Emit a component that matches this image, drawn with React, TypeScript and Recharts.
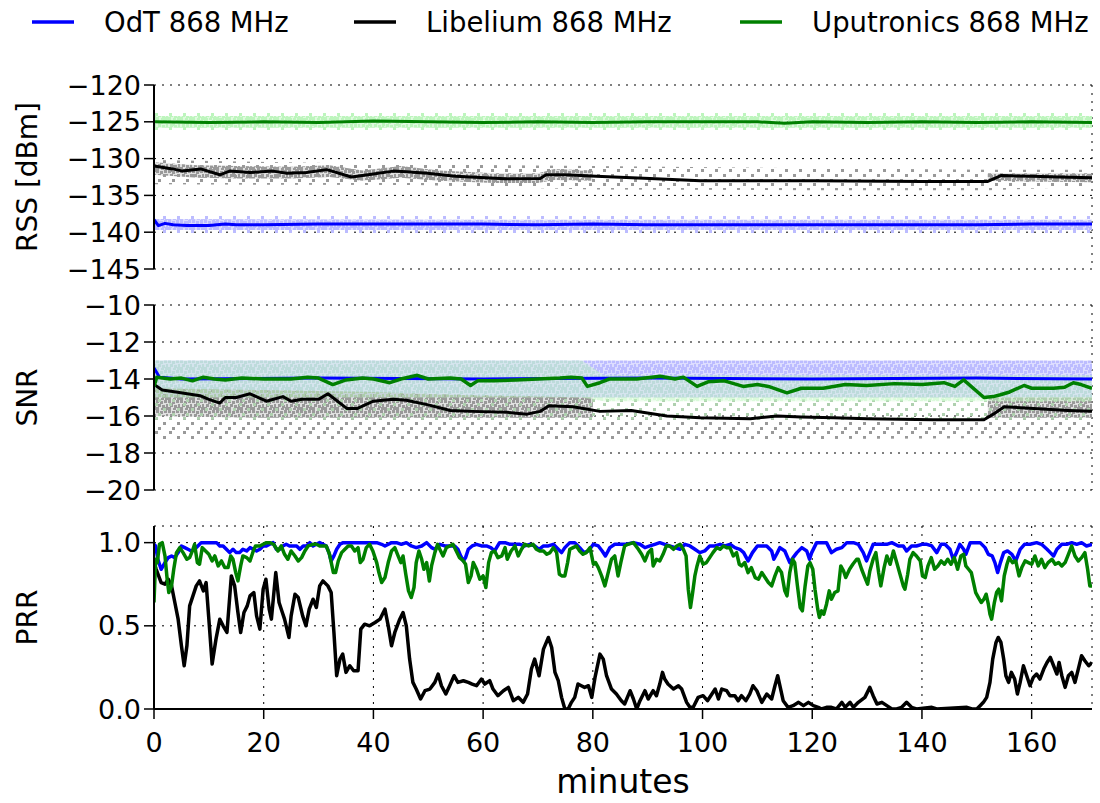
import React from 'react';
import { ComposedChart, Line, Area, XAxis, YAxis, CartesianGrid } from 'recharts';

// x axis (minutes) and y ticks of the three panels
const minuteTicks = [0, 20, 40, 60, 80, 100, 120, 140, 160];
const rssTicks = [-145, -140, -135, -130, -125, -120];
const snrTicks = [-20, -18, -16, -14, -12, -10];
const prrTicks = [0, 0.5, 1.0];

// ---- RSS [dBm] smoothed lines: [minute, value]
const rssOdt = [[0, -138.3], [0.8, -139.1], [2, -138.8], [3.5, -139.0], [6, -139.1], [10, -139.1], [13, -138.9], [15, -139.0], [20, -139.0], [30, -138.9], [40, -138.9], [50, -138.9], [60, -138.9], [70, -139.0], [80, -138.9], [90, -139.0], [100, -139.0], [110, -139.0], [120, -139.0], [130, -139.0], [140, -139.0], [150, -139.0], [160, -138.9], [171, -138.9]];
const rssLibelium = [[0, -131.0], [3.4, -131.4], [5.2, -131.7], [8.5, -131.4], [12, -132.2], [13.8, -131.7], [17.5, -131.9], [21.7, -131.7], [24.2, -132.0], [27.8, -131.9], [31.5, -131.5], [36, -132.5], [40, -132.1], [43.6, -131.7], [46, -131.8], [49.8, -132.0], [55, -132.4], [64, -132.75], [70.4, -132.7], [71.5, -132.2], [75, -132.2], [80.6, -132.4], [90.4, -132.7], [99.6, -133.0], [120, -133.0], [140, -133.1], [152, -133.1], [154.4, -132.3], [160, -132.4], [165, -132.5], [171, -132.6]];
const rssUputronics = [[0, -125.0], [10, -125.1], [20, -125.0], [30, -125.1], [40, -124.9], [50, -125.0], [60, -125.1], [70, -125.0], [80, -125.1], [90, -125.0], [100, -125.0], [110, -125.0], [115, -125.2], [120, -125.0], [130, -125.1], [140, -125.0], [150, -125.1], [160, -125.0], [171, -125.1]];

// ---- RSS scatter clouds: [minute, low, high]
const rssOdtCore = [[0, -139.7, -138.2], [60, -139.7, -138.3], [120, -139.7, -138.3], [171, -139.7, -138.3]];
const rssOdtSpread = [[0, -140.3, -137.7], [171, -140.3, -137.7]];
const rssLibCore = [[0, -132.2, -130.5], [8, -132.6, -130.9], [15, -132.7, -131.0], [25, -132.7, -131.1], [32, -132.5, -130.9], [38, -133.0, -131.6], [45, -132.6, -131.0], [52, -133.0, -131.6], [62, -133.3, -132.0], [70, -133.3, -132.0], [73, -132.9, -131.4], [80, -133.0, -131.6]];
const rssLibLate = [[152, -133.0, -132.0], [160, -133.1, -132.0], [171, -133.2, -132.0]];
const rssLibSpread = [[0, -133.5, -130.2], [48, -133.6, -130.8], [80, -134.2, -131.0], [120, -134.3, -131.3], [152, -134.3, -131.5], [171, -133.8, -131.5]];
const rssUpuCore = [[0, -125.8, -124.2], [171, -125.8, -124.2]];
const rssUpuSpread = [[0, -126.3, -123.7], [171, -126.3, -123.7]];

// ---- SNR lines
const snrOdt = [[0, -13.4], [1, -13.9], [5, -14.0], [30, -13.95], [60, -14.0], [90, -13.95], [120, -14.0], [150, -13.95], [171, -14.0]];
const snrLibelium = [[0, -14.3], [1.5, -14.6], [4, -14.7], [8.4, -14.9], [10, -15.1], [12, -15.3], [13, -15.0], [15, -15.0], [17.5, -14.8], [20.5, -15.2], [23.5, -14.95], [25, -15.2], [27, -15.1], [30, -15.1], [31.7, -14.8], [35.2, -15.6], [37, -15.6], [40, -15.2], [43.6, -15.1], [46, -15.15], [50, -15.4], [54, -15.7], [58, -15.75], [64.3, -15.8], [68, -15.9], [70.4, -15.75], [72, -15.45], [76.4, -15.5], [81.3, -15.75], [87, -15.7], [93.5, -16.0], [99.6, -16.1], [108.7, -16.15], [113.6, -16.0], [118, -16.05], [123.9, -16.1], [130, -16.15], [142, -16.2], [151.3, -16.2], [153, -15.9], [155, -15.5], [160.4, -15.6], [166.6, -15.7], [171, -15.75]];
const snrUputronics = [[0, -14.4], [0.5, -13.9], [3, -14.0], [5, -13.95], [7, -14.1], [9, -13.9], [11, -14.0], [13, -14.05], [16, -13.95], [20, -14.0], [25, -14.0], [28, -13.9], [30, -13.95], [32.6, -14.3], [35, -14.05], [38, -13.95], [40, -14.0], [43, -14.2], [45, -14.0], [48, -13.8], [50, -14.0], [54, -13.95], [56, -14.0], [57.7, -14.35], [59, -14.1], [62, -14.1], [66, -14.05], [70, -14.0], [74, -13.95], [76, -13.9], [78, -13.95], [79, -14.4], [81.3, -14.2], [83, -14.0], [88, -14.0], [92.3, -13.85], [95, -14.0], [96.5, -13.9], [99, -14.4], [101, -14.15], [104, -14.1], [107.4, -14.4], [110, -14.3], [112, -14.4], [115.4, -14.75], [118, -14.5], [122, -14.5], [126, -14.3], [130, -14.35], [135, -14.25], [140, -14.3], [144, -14.2], [146, -14.4], [147.6, -14.05], [151.3, -15.0], [153, -14.95], [154.3, -14.85], [156, -14.7], [158.6, -14.35], [160, -14.5], [164, -14.5], [166, -14.45], [167.6, -14.2], [169, -14.3], [171, -14.5]];

// ---- SNR scatter clouds
const snrOdtBand = [[0, -15.0, -13.0], [171, -15.0, -13.0]];
const snrLibCore = [[0, -16.0, -14.5], [20, -16.1, -14.6], [40, -16.1, -14.7], [60, -16.1, -14.9], [80, -16.1, -15.0]];
const snrLibLate = [[152, -16.1, -15.0], [171, -16.1, -15.0]];
const snrLibSpread = [[0, -17.3, -14.5], [80, -17.3, -15.0], [152, -17.2, -15.2], [171, -17.2, -15.0]];
const snrUpuCore = [[0, -15.0, -13.0], [78, -15.0, -13.0], [82, -15.2, -13.8], [150, -15.2, -13.8], [171, -15.2, -13.8]];
const snrUpuSpread = [[0, -16.2, -15.0], [171, -16.2, -15.0]];

// ---- PRR lines
const prrOdt = [[0, 0.99], [0.3, 0.98], [0.7, 0.90], [1.3, 0.84], [2, 0.88], [2.6, 0.91], [3.2, 0.92], [3.8, 0.91], [4.4, 0.94], [5, 0.98], [5.6, 0.97], [6.2, 0.96], [6.8, 0.95], [7.4, 0.96], [8, 0.98], [8.6, 1.0], [9.5, 1.0], [10.5, 1.0], [11.4, 1.0], [12, 0.98], [12.6, 0.98], [13.2, 0.96], [13.8, 0.94], [14.4, 0.96], [15, 0.94], [15.6, 0.94], [16.2, 0.96], [16.9, 0.95], [17.5, 0.97], [18.1, 0.96], [18.7, 0.95], [19.3, 0.96], [19.9, 0.98], [20.5, 0.98], [21.1, 0.99], [21.7, 1.0], [22.3, 0.96], [22.9, 0.96], [23.5, 0.98], [24.1, 0.99], [24.7, 0.98], [26, 0.98], [26.6, 0.96], [27.2, 0.98], [27.8, 0.98], [28.4, 1.0], [29, 0.98], [29.6, 0.99], [30.2, 1.0], [30.8, 0.99], [31.4, 0.98], [31.9, 0.94], [32.3, 0.89], [32.8, 0.92], [33.3, 0.96], [33.9, 0.99], [34.5, 1.0], [35.7, 1.0], [36.9, 1.0], [38.1, 1.0], [39.3, 1.0], [40.6, 1.0], [41.5, 0.99], [42.1, 0.98], [43.3, 1.0], [44.2, 1.0], [45.1, 0.99], [46, 1.0], [46.9, 0.98], [47.8, 0.97], [48.8, 0.98], [49.7, 1.0], [50.6, 0.97], [51.2, 0.96], [52.1, 0.99], [53, 0.98], [54.8, 0.98], [55.4, 0.96], [55.9, 0.92], [56.4, 0.89], [56.8, 0.91], [57.3, 0.96], [58, 0.98], [58.8, 0.99], [59.7, 0.98], [60.6, 0.98], [61.4, 0.97], [62.1, 0.95], [63, 1.0], [64, 1.0], [64.9, 0.99], [66.7, 0.99], [67.6, 0.98], [68.5, 0.99], [69.4, 0.98], [70.2, 0.96], [71, 0.98], [71.9, 0.98], [72.8, 0.99], [73.7, 0.96], [74.3, 0.94], [74.9, 0.97], [75.8, 1.0], [76.7, 1.0], [77.6, 0.97], [78.4, 0.94], [79.2, 0.95], [80.1, 0.99], [81, 0.98], [81.7, 0.95], [82.3, 0.92], [83.1, 0.97], [84, 0.99], [86.1, 0.99], [87.4, 1.0], [88.6, 0.99], [89.5, 0.97], [90.4, 0.98], [91.3, 0.99], [92.2, 1.0], [93.1, 0.99], [94, 0.98], [95, 0.97], [95.9, 0.96], [96.8, 0.99], [97.7, 0.98], [98.6, 0.96], [99.5, 0.94], [100.4, 0.95], [101.3, 0.98], [102.3, 0.98], [103.2, 0.99], [104.1, 0.98], [105, 0.99], [105.9, 0.97], [106.8, 0.96], [107.5, 0.94], [108.3, 0.89], [109.1, 0.94], [110, 0.98], [111.7, 0.98], [112.6, 0.95], [113, 0.90], [113.5, 0.93], [114.1, 0.97], [115, 0.95], [115.9, 0.88], [116.5, 0.91], [117.2, 0.94], [118.1, 0.97], [119, 0.95], [119.5, 0.90], [119.9, 0.94], [120.8, 1.0], [122.6, 1.0], [123.5, 0.94], [124.4, 0.96], [125.4, 0.97], [126.3, 1.0], [127.5, 1.0], [128.4, 0.99], [129.3, 0.94], [129.9, 0.89], [130.5, 0.94], [131.1, 0.99], [133.6, 0.99], [134.5, 1.0], [135.7, 0.98], [136.6, 0.98], [137.2, 0.95], [138.1, 0.98], [139, 0.98], [140, 0.99], [140.9, 0.99], [141.8, 0.98], [142.7, 0.94], [143.5, 0.99], [144.2, 0.99], [145.1, 0.96], [145.7, 0.90], [146.3, 0.94], [146.9, 0.99], [147.6, 0.96], [148, 0.93], [148.8, 1.0], [150.6, 1.0], [151.5, 0.97], [152.1, 0.93], [152.8, 0.92], [153.3, 0.88], [153.8, 0.82], [154.3, 0.88], [154.9, 0.94], [155.6, 0.95], [156.4, 0.93], [157.1, 0.89], [157.9, 0.96], [158.7, 0.99], [159.7, 0.99], [160.9, 1.0], [161.8, 0.99], [162.8, 0.96], [163.4, 0.94], [164, 0.92], [164.6, 0.96], [165.5, 0.99], [166.4, 0.99], [167.3, 1.0], [168.2, 0.99], [169.1, 1.0], [170, 0.98], [171, 0.99]];
const prrLibelium = [[0, 0.88], [0.4, 0.84], [1.3, 0.76], [2, 0.75], [2.6, 0.78], [3.2, 0.74], [3.8, 0.64], [4.4, 0.54], [5, 0.38], [5.5, 0.26], [6, 0.38], [6.5, 0.62], [7.1, 0.68], [7.7, 0.74], [8.3, 0.77], [9, 0.71], [9.5, 0.76], [10, 0.54], [10.6, 0.27], [11.3, 0.42], [12, 0.54], [12.6, 0.50], [13.3, 0.46], [14.1, 0.80], [14.7, 0.74], [15.3, 0.58], [15.8, 0.46], [16.4, 0.58], [17, 0.62], [17.5, 0.68], [18.2, 0.70], [18.7, 0.56], [19.3, 0.48], [19.9, 0.72], [20.4, 0.78], [21, 0.60], [21.4, 0.54], [22.2, 0.82], [22.8, 0.64], [23.4, 0.58], [23.8, 0.54], [24.6, 0.43], [25, 0.56], [25.7, 0.69], [26.3, 0.67], [27.1, 0.56], [27.7, 0.50], [28.3, 0.60], [29, 0.66], [29.6, 0.61], [30.2, 0.74], [30.8, 0.77], [31.7, 0.74], [32.3, 0.70], [32.8, 0.46], [33.3, 0.20], [33.9, 0.30], [34.4, 0.33], [35, 0.22], [35.7, 0.26], [36.4, 0.23], [37.2, 0.23], [37.7, 0.48], [38.4, 0.51], [39.3, 0.50], [40.3, 0.52], [41.2, 0.54], [41.8, 0.58], [42.1, 0.60], [42.7, 0.50], [43.3, 0.38], [43.9, 0.46], [44.8, 0.54], [45.4, 0.58], [46, 0.50], [46.6, 0.30], [47.2, 0.16], [47.8, 0.12], [48.6, 0.06], [49.4, 0.11], [50.3, 0.12], [51.2, 0.16], [51.8, 0.21], [52.4, 0.14], [53.2, 0.09], [53.9, 0.14], [54.7, 0.20], [55.4, 0.16], [56.4, 0.17], [57.3, 0.16], [58, 0.15], [58.8, 0.14], [59.7, 0.18], [60.3, 0.15], [61.2, 0.17], [61.8, 0.12], [62.7, 0.08], [63.7, 0.11], [64.6, 0.13], [65.5, 0.05], [66.4, 0.07], [67.3, 0.04], [68.1, 0.09], [68.8, 0.24], [69.4, 0.30], [70.2, 0.20], [71, 0.36], [71.9, 0.43], [72.5, 0.37], [73.1, 0.22], [73.7, 0.17], [74.3, 0.07], [74.9, 0.0], [75.5, 0.0], [76.1, 0.04], [76.7, 0.07], [77.3, 0.15], [77.9, 0.14], [78.5, 0.13], [79.2, 0.14], [79.8, 0.07], [80.4, 0.19], [81.3, 0.33], [81.9, 0.30], [82.5, 0.20], [83.4, 0.12], [84.3, 0.09], [85.2, 0.05], [85.8, 0.03], [86.8, 0.11], [87.4, 0.06], [88, 0.0], [88.6, 0.05], [89.5, 0.11], [90.1, 0.06], [91, 0.11], [91.6, 0.08], [92.2, 0.15], [92.7, 0.22], [93.1, 0.18], [93.7, 0.15], [94.7, 0.12], [95.6, 0.14], [96.2, 0.12], [97.1, 0.04], [97.7, 0.01], [98.3, 0.01], [99.2, 0.07], [100.1, 0.08], [100.9, 0.05], [101.5, 0.08], [102.3, 0.12], [102.9, 0.06], [103.5, 0.12], [104.4, 0.11], [105, 0.08], [105.9, 0.08], [106.5, 0.05], [107.1, 0.08], [107.9, 0.05], [108.6, 0.09], [109.2, 0.14], [109.9, 0.11], [110.8, 0.04], [111.7, 0.09], [112.6, 0.06], [113.2, 0.14], [113.7, 0.20], [114.1, 0.14], [114.7, 0.05], [115.6, 0.01], [116.5, 0.02], [117.5, 0.04], [118.4, 0.02], [119.3, 0.04], [120.2, 0.02], [121.1, 0.01], [121.7, 0.0], [122.6, 0.01], [123.5, 0.01], [124.4, 0.0], [125.4, 0.04], [126, 0.01], [126.9, 0.04], [127.5, 0.01], [128.4, 0.04], [129.6, 0.07], [130.5, 0.13], [131.1, 0.08], [131.8, 0.03], [132.7, 0.04], [133.6, 0.02], [134.5, 0.0], [135.4, 0.0], [136.3, 0.01], [137.2, 0.04], [138.1, 0.01], [139, 0.0], [141.8, 0.01], [142.7, 0.0], [148.2, 0.01], [149.1, 0.0], [150, 0.0], [150.6, 0.02], [151.2, 0.04], [151.8, 0.07], [152.4, 0.16], [152.9, 0.30], [153.5, 0.40], [153.9, 0.43], [154.4, 0.40], [154.9, 0.30], [155.3, 0.20], [155.8, 0.16], [156.3, 0.22], [156.9, 0.18], [157.4, 0.09], [157.9, 0.16], [158.5, 0.26], [159.1, 0.20], [159.7, 0.14], [160.3, 0.19], [160.9, 0.21], [161.5, 0.18], [162.2, 0.24], [162.8, 0.28], [163.4, 0.31], [164, 0.26], [164.6, 0.21], [165, 0.28], [165.5, 0.20], [166.1, 0.13], [166.7, 0.20], [167.3, 0.22], [167.9, 0.16], [168.5, 0.24], [169.1, 0.32], [169.7, 0.29], [170.4, 0.26], [171, 0.28]];
const prrUputronics = [[0, 0.64], [0.3, 0.90], [0.6, 0.88], [1, 0.99], [1.5, 1.0], [2, 0.92], [2.4, 0.78], [2.7, 0.70], [3.2, 0.74], [3.6, 0.84], [4.1, 0.94], [4.7, 0.97], [5.3, 0.94], [6, 0.90], [6.5, 0.91], [7, 0.95], [7.4, 0.99], [7.9, 0.88], [8.3, 0.87], [8.8, 0.97], [9.4, 0.95], [10, 0.93], [10.6, 0.89], [11.1, 0.92], [11.7, 0.86], [12.3, 0.89], [12.9, 0.85], [13.5, 0.85], [14, 0.92], [14.4, 0.90], [14.9, 0.82], [15.3, 0.77], [15.8, 0.86], [16.2, 0.92], [16.9, 0.91], [17.5, 0.89], [18.1, 0.95], [18.5, 0.98], [19.3, 0.98], [19.9, 0.99], [20.5, 1.0], [21.1, 1.0], [21.8, 0.99], [22.6, 0.95], [23.2, 0.98], [23.8, 0.93], [24.4, 0.90], [25, 0.95], [25.7, 0.92], [26.3, 0.89], [26.9, 0.91], [27.5, 0.95], [28.1, 0.98], [29, 0.99], [29.6, 0.99], [30.2, 0.98], [31.4, 0.98], [32, 0.93], [32.7, 0.82], [33.1, 0.82], [33.6, 0.89], [34.2, 0.94], [34.8, 0.96], [35.4, 0.98], [36, 0.98], [36.6, 0.95], [37.2, 0.97], [37.6, 0.88], [38.1, 0.90], [38.7, 0.97], [39.3, 0.99], [39.9, 0.95], [40.6, 0.88], [41, 0.82], [41.5, 0.76], [42.1, 0.79], [42.7, 0.88], [43.3, 0.95], [43.9, 0.97], [44.5, 0.92], [45, 0.88], [45.4, 0.92], [45.9, 0.81], [46.4, 0.71], [46.9, 0.67], [47.4, 0.73], [47.8, 0.88], [48.3, 0.95], [48.8, 0.90], [49.2, 0.84], [49.7, 0.88], [50.2, 0.77], [50.6, 0.86], [51.2, 0.94], [51.7, 0.99], [52.1, 0.96], [52.7, 0.92], [53.3, 0.97], [53.9, 0.98], [54.5, 0.99], [55.1, 0.95], [55.7, 0.91], [56.4, 0.89], [56.8, 0.87], [57.3, 0.76], [57.8, 0.80], [58.2, 0.88], [58.8, 0.84], [59.4, 0.78], [60, 0.80], [60.5, 0.73], [61, 0.88], [61.5, 0.94], [62.1, 0.95], [62.7, 0.91], [63.4, 0.92], [64, 0.97], [64.4, 0.90], [65.1, 0.95], [65.8, 0.98], [66.4, 0.92], [67, 0.96], [67.6, 0.99], [68.3, 0.98], [69.1, 0.99], [69.7, 0.96], [70.3, 0.95], [71, 0.95], [71.6, 0.93], [72.2, 0.94], [72.8, 0.97], [73.4, 0.94], [73.9, 0.81], [74.4, 0.80], [74.9, 0.80], [75.4, 0.88], [75.8, 0.96], [76.4, 0.97], [77, 0.98], [77.6, 0.95], [78.2, 0.93], [78.8, 0.94], [79.5, 0.97], [80.1, 0.87], [80.5, 0.88], [81, 0.85], [81.6, 0.80], [82.2, 0.74], [82.8, 0.82], [83.4, 0.90], [84, 0.92], [84.6, 0.80], [85.1, 0.88], [85.8, 0.98], [86.4, 0.99], [87.4, 1.0], [88.3, 0.96], [88.9, 0.93], [89.5, 0.89], [90.1, 0.94], [90.7, 0.96], [91, 0.86], [91.6, 0.90], [92.2, 0.89], [92.8, 0.93], [93.4, 0.98], [94, 0.98], [94.7, 0.96], [95.3, 0.98], [95.9, 0.99], [96.5, 0.96], [97, 0.92], [97.4, 0.72], [97.8, 0.61], [98.2, 0.70], [98.6, 0.80], [99, 0.86], [99.5, 0.92], [100.1, 0.87], [100.7, 0.88], [101.3, 0.91], [101.9, 0.94], [102.6, 0.97], [103.2, 0.96], [103.8, 0.98], [104.4, 0.97], [105, 0.97], [105.6, 0.92], [106.2, 0.94], [106.7, 0.87], [107.1, 0.86], [107.7, 0.88], [108.3, 0.82], [108.9, 0.85], [109.6, 0.79], [110.2, 0.78], [110.8, 0.82], [111.4, 0.79], [112, 0.76], [112.6, 0.74], [113.2, 0.80], [113.8, 0.85], [114.4, 0.82], [115, 0.71], [115.4, 0.68], [115.9, 0.82], [116.4, 0.90], [116.8, 0.88], [117.3, 0.74], [117.8, 0.61], [118.2, 0.59], [118.7, 0.74], [119.2, 0.86], [119.6, 0.88], [120.1, 0.84], [120.5, 0.72], [121, 0.60], [121.3, 0.55], [121.7, 0.59], [122.1, 0.57], [122.6, 0.63], [123.1, 0.71], [123.5, 0.66], [124.1, 0.70], [124.7, 0.71], [125.2, 0.86], [125.7, 0.83], [126.1, 0.79], [126.8, 0.84], [127.4, 0.87], [128.1, 0.90], [128.4, 0.90], [129, 0.84], [129.6, 0.79], [130.1, 0.75], [130.5, 0.83], [131.1, 0.90], [131.6, 0.94], [132.1, 0.82], [132.5, 0.74], [133.1, 0.85], [133.6, 0.92], [134.2, 0.87], [134.8, 0.95], [135.4, 0.88], [136, 0.81], [136.6, 0.74], [136.9, 0.72], [137.4, 0.81], [137.8, 0.90], [138.4, 0.94], [139, 0.92], [139.7, 0.89], [140.1, 0.80], [140.6, 0.79], [141.1, 0.86], [141.7, 0.91], [142.3, 0.84], [142.9, 0.86], [143.5, 0.89], [144.1, 0.87], [144.7, 0.90], [145.3, 0.87], [145.9, 0.91], [146.5, 0.84], [147.1, 0.92], [147.6, 0.93], [148, 0.86], [148.5, 0.84], [149, 0.82], [149.4, 0.76], [149.8, 0.70], [150.3, 0.67], [150.8, 0.64], [151.3, 0.66], [151.7, 0.69], [152.1, 0.63], [152.4, 0.57], [152.7, 0.54], [153.2, 0.64], [153.6, 0.70], [154, 0.72], [154.5, 0.65], [155, 0.80], [155.5, 0.87], [155.9, 0.91], [156.5, 0.88], [157.1, 0.89], [157.7, 0.80], [158.2, 0.85], [158.8, 0.89], [159.4, 0.88], [160, 0.87], [160.6, 0.92], [161.2, 0.86], [161.8, 0.90], [162.4, 0.85], [163, 0.88], [163.7, 0.90], [164.3, 0.87], [164.9, 0.88], [165.5, 0.86], [166.1, 0.88], [166.7, 0.93], [167.3, 0.98], [167.9, 0.92], [168.5, 0.89], [169.1, 0.91], [169.7, 0.94], [170.2, 0.84], [170.6, 0.74], [171, 0.74]];

const pts = (arr: number[][]) => arr.map(([m, v]) => ({ m, v }));
const band = (arr: number[][]) => arr.map(([m, lo, hi]) => ({ m, r: [lo, hi] }));

const BLUE = '#0000ff';
const GREEN = '#008000';
const BLACK = '#000000';

const axisLine = { stroke: '#000', strokeWidth: 2 };
const tickLine = { stroke: '#000', strokeWidth: 1.5 };
const tickStyle = { fill: '#000', fontSize: 27 };
const margin = { top: 15, right: 8, bottom: 15, left: 0 };

const fmtDb = (v: number) => (v < 0 ? '\u2212' + Math.abs(v) : String(v));
const fmtPrr = (v: number) => v.toFixed(1);

function frame(domain: number[], ticks: number[], fmt: (v: number) => string, label: string, withMinutes: boolean) {
  return [
    <CartesianGrid key="grid" stroke="#000" strokeDasharray="2 6" strokeWidth={1} />,
    <XAxis key="xb" dataKey="m" type="number" domain={[0, 171]} ticks={minuteTicks} interval={0} allowDataOverflow
      axisLine={axisLine} tickLine={tickLine} tickSize={10} tickMargin={14}
      tick={withMinutes ? tickStyle : false} height={withMinutes ? 94 : 0}
      label={withMinutes ? { value: 'minutes', position: 'insideBottom', offset: 10, style: { fontSize: 33, fill: '#000' } } : undefined} />,
    <XAxis key="xt" xAxisId="top" orientation="top" dataKey="m" type="number" domain={[0, 171]} ticks={minuteTicks} interval={0} allowDataOverflow
      axisLine={axisLine} tickLine={tickLine} tickSize={10} tick={false} height={0} />,
    <YAxis key="yl" type="number" domain={domain} ticks={ticks} interval={0} allowDataOverflow width={154}
      axisLine={axisLine} tickLine={tickLine} tickSize={10} tickMargin={3} tick={tickStyle} tickFormatter={fmt}
      label={{ value: label, angle: -90, position: 'insideLeft', offset: 27, style: { textAnchor: 'middle', fontSize: 28, fill: '#000' } }} />,
    <YAxis key="yr" yAxisId="right" orientation="right" type="number" domain={domain} ticks={ticks} interval={0} allowDataOverflow width={0}
      axisLine={axisLine} tickLine={tickLine} tickSize={10} tick={false} />,
  ];
}

const bandArea = (key: string, data: number[][], fill: string, opacity = 1) => (
  <Area key={key} data={band(data)} dataKey="r" type="linear" stroke="none" fill={fill} fillOpacity={opacity} isAnimationActive={false} dot={false} activeDot={false} />
);
const line = (key: string, data: number[][], color: string, w: number) => (
  <Line key={key} data={pts(data)} dataKey="v" type="linear" stroke={color} strokeWidth={w} style={{ strokeWidth: w }} strokeLinejoin="round" dot={false} activeDot={false} isAnimationActive={false} />
);

function Dots({ id, color, cells, w, h, size, bg }: { id: string; color: string; cells: number[][]; w: number; h: number; size: number; bg: number }) {
  return (
    <pattern id={id} width={w} height={h} patternUnits="userSpaceOnUse">
      {bg > 0 && <rect x={0} y={0} width={w} height={h} fill={color} fillOpacity={bg} />}
      {cells.map(([x, y], i) => <rect key={i} x={x} y={y} width={size} height={size} fill={color} />)}
    </pattern>
  );
}

const denseCells = [[0, 0], [4, 1], [8, 0], [2, 4], [6, 5], [10, 4], [0, 7], [5, 8], [9, 7]];
const sparseCells = [[1, 1], [9, 6], [4, 11]];

const legendItems = [
  { name: 'OdT 868 MHz', color: BLUE, x: 32 },
  { name: 'Libelium 868 MHz', color: BLACK, x: 354 },
  { name: 'Uputronics 868 MHz', color: GREEN, x: 740 },
];

export default function App() {
  return (
    <div style={{ position: 'absolute', left: 0, top: 0, width: 1100, height: 803, background: '#fff', fontFamily: "'DejaVu Sans', sans-serif", overflow: 'hidden' }}>
      <svg width={1100} height={45} style={{ position: 'absolute', left: 0, top: 0 }}>
        <defs>
          <Dots id="blueDense" color="#bcbcff" cells={denseCells} w={12} h={10} size={3} bg={0.5} />
          <Dots id="blueSparse" color="#bcbcff" cells={sparseCells} w={14} h={14} size={3} bg={0} />
          <Dots id="greenDense" color="#bdf5bd" cells={denseCells} w={12} h={10} size={3} bg={0.5} />
          <Dots id="greenSparse" color="#bdf5bd" cells={sparseCells} w={14} h={14} size={3} bg={0} />
          <Dots id="grayDense" color="#999999" cells={denseCells} w={12} h={10} size={3} bg={0.3} />
          <Dots id="graySparse" color="#999999" cells={sparseCells} w={14} h={14} size={3} bg={0} />
        </defs>
        {legendItems.map((it) => (
          <g key={it.name}>
            <line x1={it.x} x2={it.x + 42} y1={22} y2={22} stroke={it.color} strokeWidth={3.5} />
            <text x={it.x + 72} y={32} fontSize={27.5} fill="#000">{it.name}</text>
          </g>
        ))}
      </svg>

      <div style={{ position: 'absolute', left: 0, top: 70 }}>
        <ComposedChart width={1100} height={214} margin={margin}>
          {frame([-145, -120], rssTicks, fmtDb, 'RSS [dBm]', false)}
          {bandArea('a1', rssOdtSpread, 'url(#blueSparse)')}
          {bandArea('a2', rssOdtCore, 'url(#blueDense)')}
          {line('l1', rssOdt, BLUE, 3)}
          {bandArea('a3', rssLibSpread, 'url(#graySparse)')}
          {bandArea('a4', rssLibCore, 'url(#grayDense)')}
          {bandArea('a5', rssLibLate, 'url(#grayDense)')}
          {line('l2', rssLibelium, BLACK, 3)}
          {bandArea('a6', rssUpuSpread, 'url(#greenSparse)')}
          {bandArea('a7', rssUpuCore, 'url(#greenDense)')}
          {line('l3', rssUputronics, GREEN, 3)}
        </ComposedChart>
      </div>

      <div style={{ position: 'absolute', left: 0, top: 290 }}>
        <ComposedChart width={1100} height={215} margin={margin}>
          {frame([-20, -10], snrTicks, fmtDb, 'SNR', false)}
          {bandArea('b1', snrOdtBand, 'url(#blueDense)')}
          {line('m1', snrOdt, BLUE, 3)}
          {bandArea('b2', snrLibSpread, 'url(#graySparse)')}
          {bandArea('b3', snrLibCore, 'url(#grayDense)')}
          {bandArea('b4', snrLibLate, 'url(#grayDense)')}
          {line('m2', snrLibelium, BLACK, 3)}
          {bandArea('b5', snrUpuSpread, 'url(#greenSparse)', 0.6)}
          {bandArea('b6', snrUpuCore, 'url(#greenDense)', 0.55)}
          {line('m3', snrUputronics, GREEN, 3.5)}
        </ComposedChart>
      </div>

      <div style={{ position: 'absolute', left: 0, top: 511 }}>
        <ComposedChart width={1100} height={292} margin={{ top: 15, right: 8, bottom: 0, left: 0 }}>
          {frame([0, 1.1], prrTicks, fmtPrr, 'PRR', true)}
          {line('p1', prrOdt, BLUE, 3.5)}
          {line('p2', prrLibelium, BLACK, 3.5)}
          {line('p3', prrUputronics, GREEN, 3.5)}
        </ComposedChart>
      </div>
    </div>
  );
}
